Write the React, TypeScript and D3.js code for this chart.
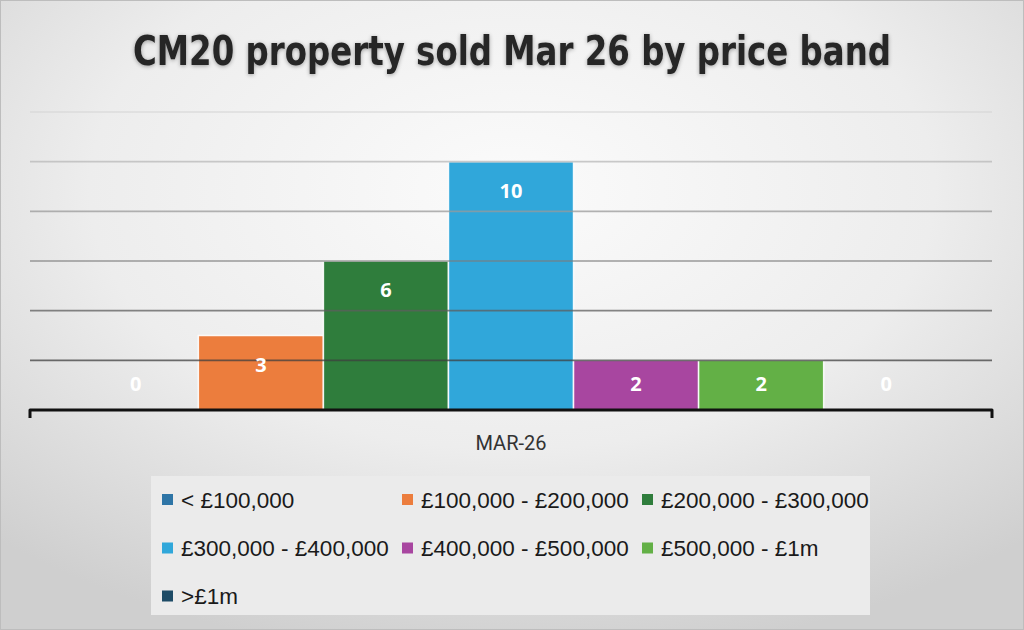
import * as d3 from "d3";

const categories = ["MAR-26"];
const bands = [
  "< £100,000",
  "£100,000 - £200,000",
  "£200,000 - £300,000",
  "£300,000 - £400,000",
  "£400,000 - £500,000",
  "£500,000 - £1m",
  ">£1m",
];
const sold = [0, 3, 6, 10, 2, 2, 0];
const colors = ["#2e75a6", "#ec7d3d", "#2f7d3c", "#30a7da", "#a846a0", "#63b046", "#1d4b66"];
const gridTicks = [2, 4, 6, 8, 10, 12];

export default function App() {
  const width = 1024;
  const height = 630;
  const left = 30;
  const right = 992;
  const y = d3.scaleLinear().domain([0, 12]).range([410, 112]);
  const x0 = d3.scaleBand().domain(categories).range([left, right]).paddingInner(0.09).paddingOuter(0.045);
  const x1 = d3.scaleBand().domain(bands).range([0, x0.bandwidth()]).paddingInner(0);
  const gridShade = d3.scaleLinear<string>().domain([2, 12]).range(["#3f3f3f", "#d6d6d6"]).interpolate(d3.interpolateRgb);
  const legendCols = [162, 402, 642];
  const legendRows = [499.5, 548, 596];

  // inside-end labels, kept above the baseline for short bars
  const labelY = (v: number) => Math.min(y(v) + 36, y(0) - 19);

  return (
    <svg width={width} height={height} style={{ position: "absolute", left: 0, top: 0 }}>
      <defs>
        <radialGradient id="bg" cx="50%" cy="30%" r="75%">
          <stop offset="0%" stopColor="#fbfbfb" />
          <stop offset="55%" stopColor="#ededed" />
          <stop offset="100%" stopColor="#cfcfcf" />
        </radialGradient>
        <filter id="glow" x="-10%" y="-30%" width="120%" height="160%">
          <feGaussianBlur in="SourceAlpha" stdDeviation="2" />
          <feOffset dx="0" dy="1" result="b" />
          <feComponentTransfer>
            <feFuncA type="linear" slope="0.35" />
          </feComponentTransfer>
          <feMerge>
            <feMergeNode />
            <feMergeNode in="SourceGraphic" />
          </feMerge>
        </filter>
      </defs>
      <rect x={0} y={0} width={width} height={height} fill="url(#bg)" />
      <rect x={0.5} y={0.5} width={width - 1} height={height - 1} fill="none" stroke="#bdbdbd" />

      <text
        x={width / 2}
        y={65}
        textAnchor="middle"
        fontFamily="DejaVu Sans"
        fontStretch="condensed"
        fontWeight={700}
        fontSize={41}
        textLength={758}
        lengthAdjust="spacingAndGlyphs"
        fill="#262626"
        filter="url(#glow)"
      >
        CM20 property sold Mar 26 by price band
      </text>

      {categories.map((cat) => (
        <g key={cat} transform={`translate(${x0(cat)},0)`}>
          {bands.map((band, i) => (
            <rect
              key={band}
              x={x1(band)}
              y={y(sold[i])}
              width={x1.bandwidth()}
              height={y(0) - y(sold[i])}
              fill={colors[i]}
              stroke="#ffffff"
              strokeWidth={1.5}
              strokeOpacity={sold[i] > 0 ? 0.9 : 0}
            />
          ))}
        </g>
      ))}

      {gridTicks.map((t) => (
        <line
          key={t}
          x1={left}
          x2={right}
          y1={y(t)}
          y2={y(t)}
          stroke={gridShade(t)}
          strokeOpacity={0.75}
          strokeWidth={1.6}
        />
      ))}

      <path
        d={`M${left},${y(0) + 8}V${y(0)}H${right}V${y(0) + 8}`}
        fill="none"
        stroke="#111"
        strokeWidth={3}
        strokeLinejoin="round"
      />

      {categories.map((cat) => (
        <g key={`lab-${cat}`} transform={`translate(${x0(cat)},0)`}>
          {bands.map((band, i) => (
            <text
              key={band}
              x={(x1(band) ?? 0) + x1.bandwidth() / 2}
              y={labelY(sold[i])}
              textAnchor="middle"
              fontFamily="Open Sans"
              fontWeight={700}
              fontSize={20}
              fill="#ffffff"
            >
              {sold[i]}
            </text>
          ))}
          <text
            x={x0.bandwidth() / 2}
            y={450}
            textAnchor="middle"
            fontFamily="Roboto"
            fontSize={20}
            fill="#333"
          >
            {cat}
          </text>
        </g>
      ))}

      <rect x={151} y={476} width={719} height={139} fill="#ebebeb" />
      {bands.map((band, i) => {
        const sx = legendCols[i % 3];
        const cy = legendRows[Math.floor(i / 3)];
        return (
          <g key={`leg-${band}`}>
            <rect x={sx} y={cy - 5.5} width={11} height={11} fill={colors[i]} />
            <text
              x={sx + 19}
              y={cy + 8}
              fontFamily="Liberation Sans"
              fontSize={22.5}
              fill="#1a1a1a"
            >
              {band}
            </text>
          </g>
        );
      })}
    </svg>
  );
}
